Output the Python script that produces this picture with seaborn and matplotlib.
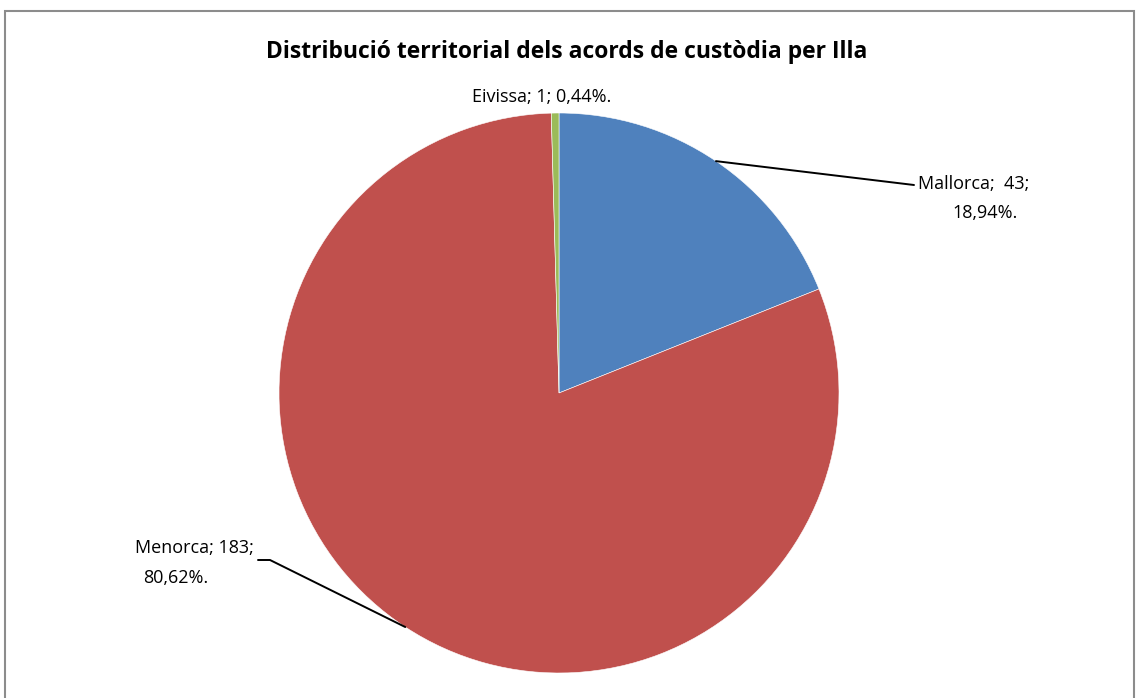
import numpy as np
import matplotlib
matplotlib.use("Agg")
import matplotlib.pyplot as plt
import seaborn as sns
from matplotlib.patches import Rectangle

sns.set_theme(style="white")
plt.rcParams['font.family'] = ['Open Sans', 'DejaVu Sans']

islands = ["Mallorca", "Menorca", "Eivissa"]
counts = [43, 183, 1]
percents = ["18,94%", "80,62%", "0,44%"]
colors = ["#4F81BD", "#C0504D", "#9BBB59"]
title = "Distribució territorial dels acords de custòdia per Illa"

W, H = 1136, 698
fig = plt.figure(figsize=(W / 100, H / 100), dpi=100)
ax = fig.add_axes([0, 0, 1, 1])

# outer border
ax.add_patch(Rectangle((5, -5), 1129, H - 11 + 5, fill=False, edgecolor="#8c8c8c", lw=1.5))

cx, cy, r = 559, H - 393, 280
wedges, _ = ax.pie(counts, colors=colors, startangle=90, counterclock=False,
                   center=(cx, cy), radius=r, frame=True,
                   wedgeprops=dict(linewidth=0.4, edgecolor="white"))
ax.set_xlim(0, W)
ax.set_ylim(0, H)
ax.set_aspect("equal")
ax.axis("off")

def mid_point(w):
    a = np.deg2rad((w.theta1 + w.theta2) / 2)
    return cx + r * np.cos(a), cy + r * np.sin(a)

fs = 13
tc = "black"
# Mallorca
px, py = mid_point(wedges[0])
ax.plot([px, 914], [py, H - 185], color="black", lw=1.4)
ax.text(918, H - 184, f"{islands[0]};  {counts[0]};", fontsize=fs, color=tc, ha="left", va="center")
ax.text(985, H - 213, f"{percents[0]}.", fontsize=fs, color=tc, ha="center", va="center")

# Menorca
px, py = mid_point(wedges[1])
ax.plot([px, 270, 258], [py, H - 560, H - 560], color="black", lw=1.4)
ax.text(254, H - 548, f"{islands[1]}; {counts[1]};", fontsize=fs, color=tc, ha="right", va="center")
ax.text(176, H - 578, f"{percents[1]}.", fontsize=fs, color=tc, ha="center", va="center")

# Eivissa
ax.text(542, H - 97, f"{islands[2]}; {counts[2]}; {percents[2]}.", fontsize=fs, color=tc, ha="center", va="center")

ax.text(567, H - 52, title, fontsize=16.5, fontweight="bold", color=tc, ha="center", va="center")

fig.savefig("out.png", dpi=100, facecolor="white")
